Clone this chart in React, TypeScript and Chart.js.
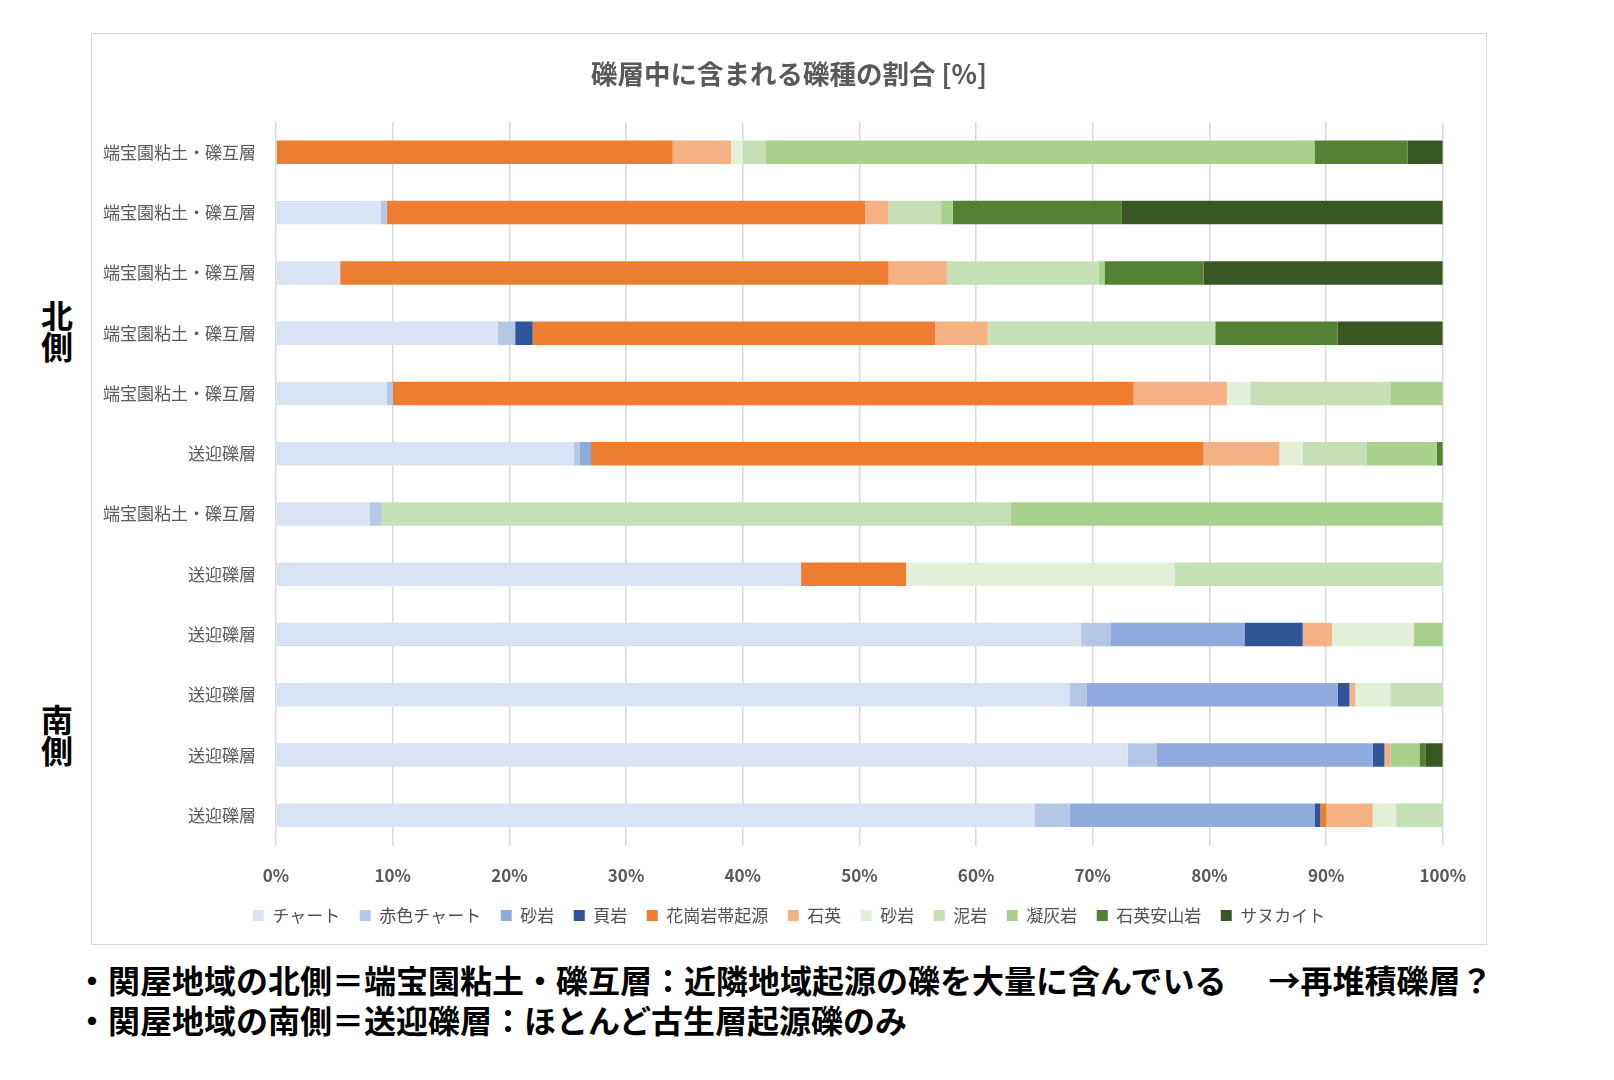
import { useEffect, useRef } from "react";
import Chart from "chart.js/auto";

const FONT = "'Noto Sans CJK JP', 'Noto Sans', sans-serif";
const GRAY = "#595959";

// rows, top to bottom
const categories = [
  "端宝園粘土・礫互層",
  "端宝園粘土・礫互層",
  "端宝園粘土・礫互層",
  "端宝園粘土・礫互層",
  "端宝園粘土・礫互層",
  "送迎礫層",
  "端宝園粘土・礫互層",
  "送迎礫層",
  "送迎礫層",
  "送迎礫層",
  "送迎礫層",
  "送迎礫層",
];

// percentages per rock type
const chert = [0, 9, 5.5, 19, 9.5, 25.5, 8, 45, 69, 68, 73, 65];
const redChert = [0, 0.5, 0, 1.5, 0.5, 0.5, 1, 0, 2.5, 1.5, 2.5, 3];
const sandstone = [0, 0, 0, 0, 0, 1, 0, 0, 11.5, 21.5, 18.5, 21];
const shale = [0, 0, 0, 1.5, 0, 0, 0, 0, 5, 1, 1, 0.5];
const granite = [34, 41, 47, 34.5, 63.5, 52.5, 0, 9, 0, 0, 0, 0.5];
const quartz = [5, 2, 5, 4.5, 8, 6.5, 0, 0, 2.5, 0.5, 0.5, 4];
const sandstone2 = [1, 0, 0, 0, 2, 2, 0, 23, 7, 3, 0, 2];
const mudstone = [2, 4.5, 13, 19.5, 12, 5.5, 54, 23, 0, 4.5, 0, 4];
const tuff = [47, 1, 0.5, 0, 4.5, 6, 37, 0, 2.5, 0, 2.5, 0];
const dacite = [8, 14.5, 8.5, 10.5, 0, 0.5, 0, 0, 0, 0, 0.5, 0];
const sanukite = [3, 27.5, 20.5, 9, 0, 0, 0, 0, 0, 0, 1.5, 0];

const series = [
  { label: "チャート", data: chert, color: "#DAE3F3" },
  { label: "赤色チャート", data: redChert, color: "#B4C7E7" },
  { label: "砂岩", data: sandstone, color: "#8FAADC" },
  { label: "頁岩", data: shale, color: "#2F5597" },
  { label: "花崗岩帯起源", data: granite, color: "#ED7D31" },
  { label: "石英", data: quartz, color: "#F4B183" },
  { label: "砂岩", data: sandstone2, color: "#E2F0D9" },
  { label: "泥岩", data: mudstone, color: "#C5E0B4" },
  { label: "凝灰岩", data: tuff, color: "#A9D18E" },
  { label: "石英安山岩", data: dacite, color: "#548235" },
  { label: "サヌカイト", data: sanukite, color: "#385723" },
];

function GravelChart() {
  const chartRef = useRef<HTMLCanvasElement>(null);
  const chartInstance = useRef<Chart | null>(null);

  useEffect(() => {
    if (!chartRef.current) return;
    if (chartInstance.current) chartInstance.current.destroy();

    const ctx = chartRef.current.getContext("2d");
    if (!ctx) return;

    chartInstance.current = new Chart(ctx, {
      type: "bar",
      data: {
        labels: categories,
        datasets: series.map((s) => ({
          label: s.label,
          data: s.data,
          backgroundColor: s.color,
          borderWidth: 0,
          categoryPercentage: 1,
          barPercentage: 0.39,
        })),
      },
      options: {
        indexAxis: "y",
        animation: false,
        responsive: true,
        maintainAspectRatio: false,
        layout: { padding: { left: 0, right: 0, top: 0, bottom: 10 } },
        scales: {
          x: {
            stacked: true,
            min: 0,
            max: 100,
            grid: { color: "#D9D9D9", lineWidth: 1.5, drawTicks: false },
            border: { display: false },
            ticks: {
              stepSize: 10,
              padding: 20,
              color: GRAY,
              font: { family: FONT, size: 17, weight: "bold" },
              callback: (v) => `${v}%`,
            },
            afterFit: (scale) => {
              scale.height = 42;
            },
          },
          y: {
            stacked: true,
            grid: { display: false, drawTicks: false },
            border: { display: false },
            ticks: {
              padding: 20,
              color: GRAY,
              font: { family: FONT, size: 17 },
            },
            afterFit: (scale) => {
              scale.width = 184;
            },
          },
          // empty right-hand spacer so title and legend stay centred on the box
          spacer: {
            type: "linear",
            axis: "y",
            position: "right",
            grid: { display: false, drawTicks: false },
            border: { display: false },
            ticks: { display: false },
            afterFit: (scale) => {
              scale.width = 43;
            },
          },
        },
        plugins: {
          title: {
            display: true,
            text: "礫層中に含まれる礫種の割合 [%]",
            color: GRAY,
            font: { family: FONT, size: 26.5, weight: "bold", lineHeight: 1.2 },
            padding: { top: 24, bottom: 32.4 },
          },
          legend: {
            position: "bottom",
            labels: {
              boxWidth: 11,
              boxHeight: 11,
              padding: 19.5,
              color: "#505050",
              font: { family: FONT, size: 17 },
            },
          },
          tooltip: { enabled: false },
        },
      },
    });

    return () => {
      if (chartInstance.current) {
        chartInstance.current.destroy();
        chartInstance.current = null;
      }
    };
  }, []);

  return (
    <div style={{ position: "relative", width: 1394, height: 910 }}>
      <canvas ref={chartRef}></canvas>
    </div>
  );
}

const sideLabel: React.CSSProperties = {
  position: "absolute",
  left: 41,
  width: 32,
  fontFamily: FONT,
  fontWeight: "bold",
  fontSize: 32,
  lineHeight: "31px",
  color: "#000",
  textAlign: "center",
};

const noteLine: React.CSSProperties = {
  fontFamily: FONT,
  fontWeight: "bold",
  fontSize: 32,
  lineHeight: "40px",
  color: "#000",
  whiteSpace: "nowrap",
};

export default function App() {
  return (
    <div
      style={{
        position: "absolute",
        left: 0,
        top: 0,
        width: 1614,
        height: 1080,
        background: "#fff",
        overflow: "hidden",
      }}
    >
      <div
        style={{
          position: "absolute",
          left: 91,
          top: 33,
          width: 1396,
          height: 912,
          border: "1px solid #D9D9D9",
          boxSizing: "border-box",
        }}
      >
        <GravelChart />
      </div>
      <div style={{ ...sideLabel, top: 299 }}>
        北<br />側
      </div>
      <div style={{ ...sideLabel, top: 703 }}>
        南<br />側
      </div>
      <div style={{ position: "absolute", left: 76, top: 959 }}>
        <div style={noteLine}>
          ・関屋地域の北側＝端宝園粘土・礫互層：近隣地域起源の礫を大量に含んでいる
          <span style={{ paddingLeft: 42 }}>→再堆積礫層？</span>
        </div>
        <div style={noteLine}>・関屋地域の南側＝送迎礫層：ほとんど古生層起源礫のみ</div>
      </div>
    </div>
  );
}
